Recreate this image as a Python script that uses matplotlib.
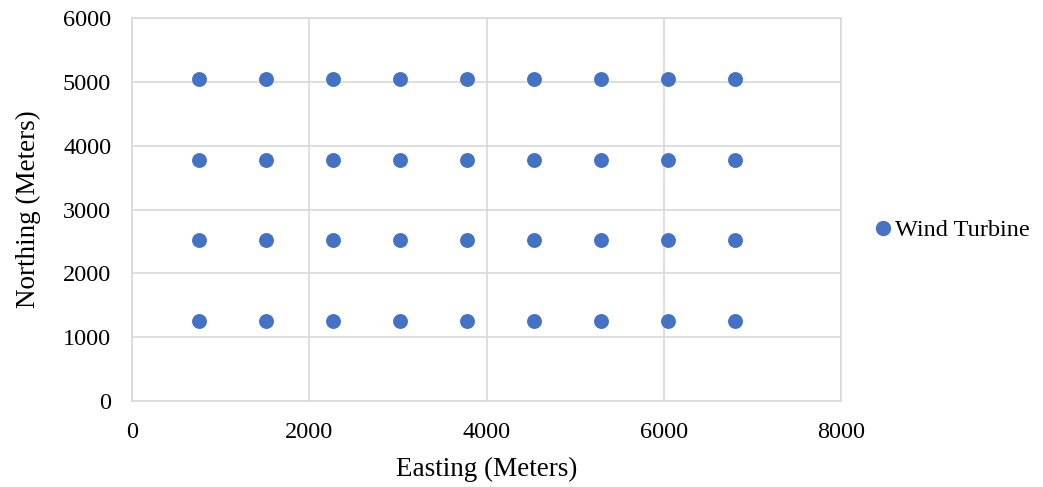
import matplotlib
matplotlib.use("Agg")
import matplotlib.pyplot as plt
from matplotlib.lines import Line2D

plt.rcParams['font.family'] = ['Liberation Serif', 'DejaVu Serif']

easting = [756, 1512, 2268, 3024, 3780, 4536, 5292, 6048, 6804]
northing = [1260, 2520, 3780, 5040]
series_name = "Wind Turbine"
xticks = [0, 2000, 4000, 6000, 8000]
yticks = [0, 1000, 2000, 3000, 4000, 5000, 6000]

xs = [x for y in northing for x in easting]
ys = [y for y in northing for x in easting]

fig = plt.figure(figsize=(10.43, 4.87), dpi=100)
ax = fig.add_axes([0.1266, 0.1766, 0.8063 - 0.1266, 0.963 - 0.1766])
ax.scatter(xs, ys, s=115, color='#4472C4', zorder=3, linewidths=0)
ax.set_xlim(0, 8000)
ax.set_ylim(0, 6000)
ax.set_xticks(xticks)
ax.set_yticks(yticks)
ax.grid(True, color='#d9d9d9', linewidth=1.2)
for s in ax.spines.values():
    s.set_color('#d9d9d9')
    s.set_linewidth(1.2)
ax.tick_params(length=0, labelsize=17.5)
ax.tick_params(axis='x', pad=15)
ax.tick_params(axis='y', pad=15)
ax.set_xlabel("Easting (Meters)", fontsize=19.5, labelpad=10)
ax.set_ylabel("Northing (Meters)", fontsize=19.5, labelpad=16)

handle = Line2D([], [], marker='o', linestyle='none', color='#4472C4', markersize=10)
fig.legend([handle], [series_name], loc='center left', bbox_to_anchor=(0.814, 0.527),
           frameon=False, fontsize=17.5, handletextpad=0.0, handlelength=1.0)

fig.savefig("out.png", dpi=100)
